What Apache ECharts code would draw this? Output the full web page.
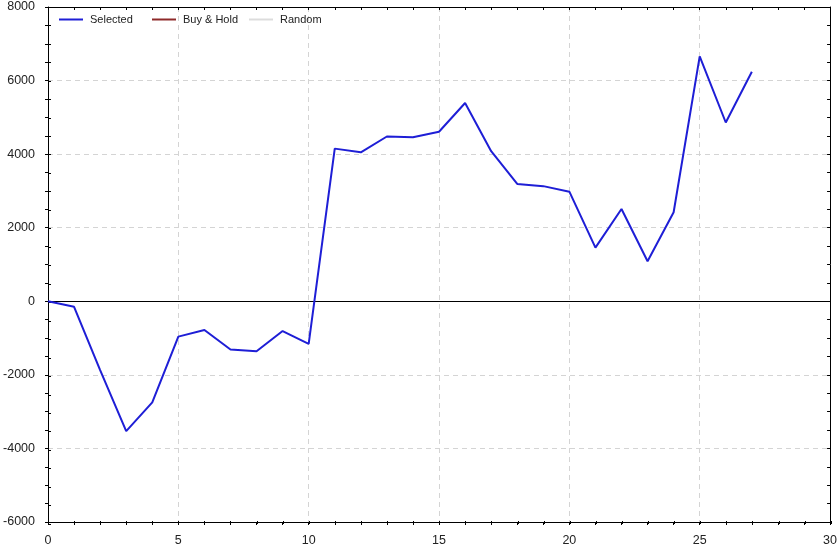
<!DOCTYPE html>
<html>
<head>
<meta charset="utf-8">
<script src="https://cdn.jsdelivr.net/npm/echarts@6/dist/echarts.min.js"></script>
<style>
html,body{margin:0;padding:0;background:#fff;}
#chart{width:840px;height:547px;}
</style>
</head>
<body>
<div id="chart"></div>
<script>
const trades = [0,1,2,3,4,5,6,7,8,9,10,11,12,13,14,15,16,17,18,19,20,21,22,23,24,25,26,27];
const selected = [0,-150,-1870,-3530,-2750,-960,-780,-1310,-1360,-810,-1160,4150,4050,4480,4460,4610,5390,4080,3190,3130,2980,1460,2510,1090,2420,6660,4860,6240];
const buyHold = [];
const randomSeries = [];
const seriesNames = ['Selected','Buy & Hold','Random'];
const seriesColors = ['#1e1ed6','#8e2a2a','#dcdcdc'];

const xMin = 0, xMax = 30, xInterval = 5;
const yMin = -6000, yMax = 8000, yInterval = 2000;

const font = 'Liberation Sans, Arial, sans-serif';
const gridRect = {left:48, right:9, top:7, bottom:23, containLabel:false};

function xAx(extra){
  return Object.assign({
    type:'value', min:xMin, max:xMax, interval:xInterval,
    axisLine:{show:true, onZero:false, lineStyle:{color:'#000', width:1}},
    axisTick:{show:true, length:3, lineStyle:{color:'#000'}},
    minorTick:{show:true, splitNumber:5, length:3, lineStyle:{color:'#000'}},
    axisLabel:{show:false},
    splitLine:{show:false}
  }, extra);
}
function yAx(extra){
  return Object.assign({
    type:'value', min:yMin, max:yMax, interval:yInterval,
    axisLine:{show:true, onZero:false, lineStyle:{color:'#000', width:1}},
    axisTick:{show:true, length:3, lineStyle:{color:'#000'}},
    minorTick:{show:true, splitNumber:4, length:3, lineStyle:{color:'#000'}},
    axisLabel:{show:false},
    splitLine:{show:false}
  }, extra);
}

const chart = echarts.init(document.getElementById('chart'), null, {renderer:'canvas'});
const dashed = {show:true, lineStyle:{color:'#d4d4d4', type:[5,4], width:1}};
const legendLefts = [59, 152, 249];
const inTick = {show:true, inside:true, length:3, lineStyle:{color:'#000'}};
const noLine = {show:false, onZero:false};

chart.setOption({
  animation:false,
  backgroundColor:'#fff',
  grid:[Object.assign({}, gridRect), Object.assign({}, gridRect)],
  legend: seriesNames.map((n,i)=>({
    left:legendLefts[i], top:14, padding:0, itemWidth:24, itemHeight:2, icon:'rect',
    textStyle:{fontFamily:font, fontSize:11, color:'#222', padding:[0,0,0,2]},
    data:[n]
  })),
  xAxis:[
    xAx({gridIndex:0, position:'bottom',
      axisLabel:{show:true, margin:12, color:'#222', fontFamily:font, fontSize:12.5, formatter:v=>String(v)},
      splitLine:dashed}),
    xAx({gridIndex:0, position:'top', axisTick:inTick,
      minorTick:{show:true, splitNumber:5, length:3, lineStyle:{color:'#000'}}}),
    xAx({gridIndex:1, position:'bottom', axisLine:noLine, axisTick:inTick,
      minorTick:{show:true, splitNumber:5, length:3, lineStyle:{color:'#000'}}})
  ],
  yAxis:[
    yAx({gridIndex:0, position:'left',
      axisLabel:{show:true, margin:13, color:'#222', fontFamily:font, fontSize:12.5, formatter:v=>String(v)},
      splitLine:dashed}),
    yAx({gridIndex:0, position:'right', axisTick:inTick,
      minorTick:{show:true, splitNumber:4, length:3, lineStyle:{color:'#000'}}}),
    yAx({gridIndex:1, position:'left', axisLine:noLine, axisTick:inTick,
      minorTick:{show:true, splitNumber:4, length:3, lineStyle:{color:'#000'}}})
  ],
  series:[
    {
      name:seriesNames[0], type:'line', xAxisIndex:0, yAxisIndex:0,
      data:trades.map((t,i)=>[t, selected[i]]),
      showSymbol:false, symbol:'none',
      lineStyle:{color:seriesColors[0], width:2},
      itemStyle:{color:seriesColors[0]},
      z:5,
      markLine:{
        silent:true, symbol:['none','none'], label:{show:false},
        lineStyle:{color:'#000', type:'solid', width:1},
        data:[{yAxis:0}]
      }
    },
    {
      name:seriesNames[1], type:'line', xAxisIndex:0, yAxisIndex:0,
      data:buyHold, showSymbol:false, symbol:'none',
      lineStyle:{color:seriesColors[1], width:2}, itemStyle:{color:seriesColors[1]}
    },
    {
      name:seriesNames[2], type:'line', xAxisIndex:0, yAxisIndex:0,
      data:randomSeries, showSymbol:false, symbol:'none',
      lineStyle:{color:seriesColors[2], width:2}, itemStyle:{color:seriesColors[2]}
    }
  ]
});
</script>
</body>
</html>
